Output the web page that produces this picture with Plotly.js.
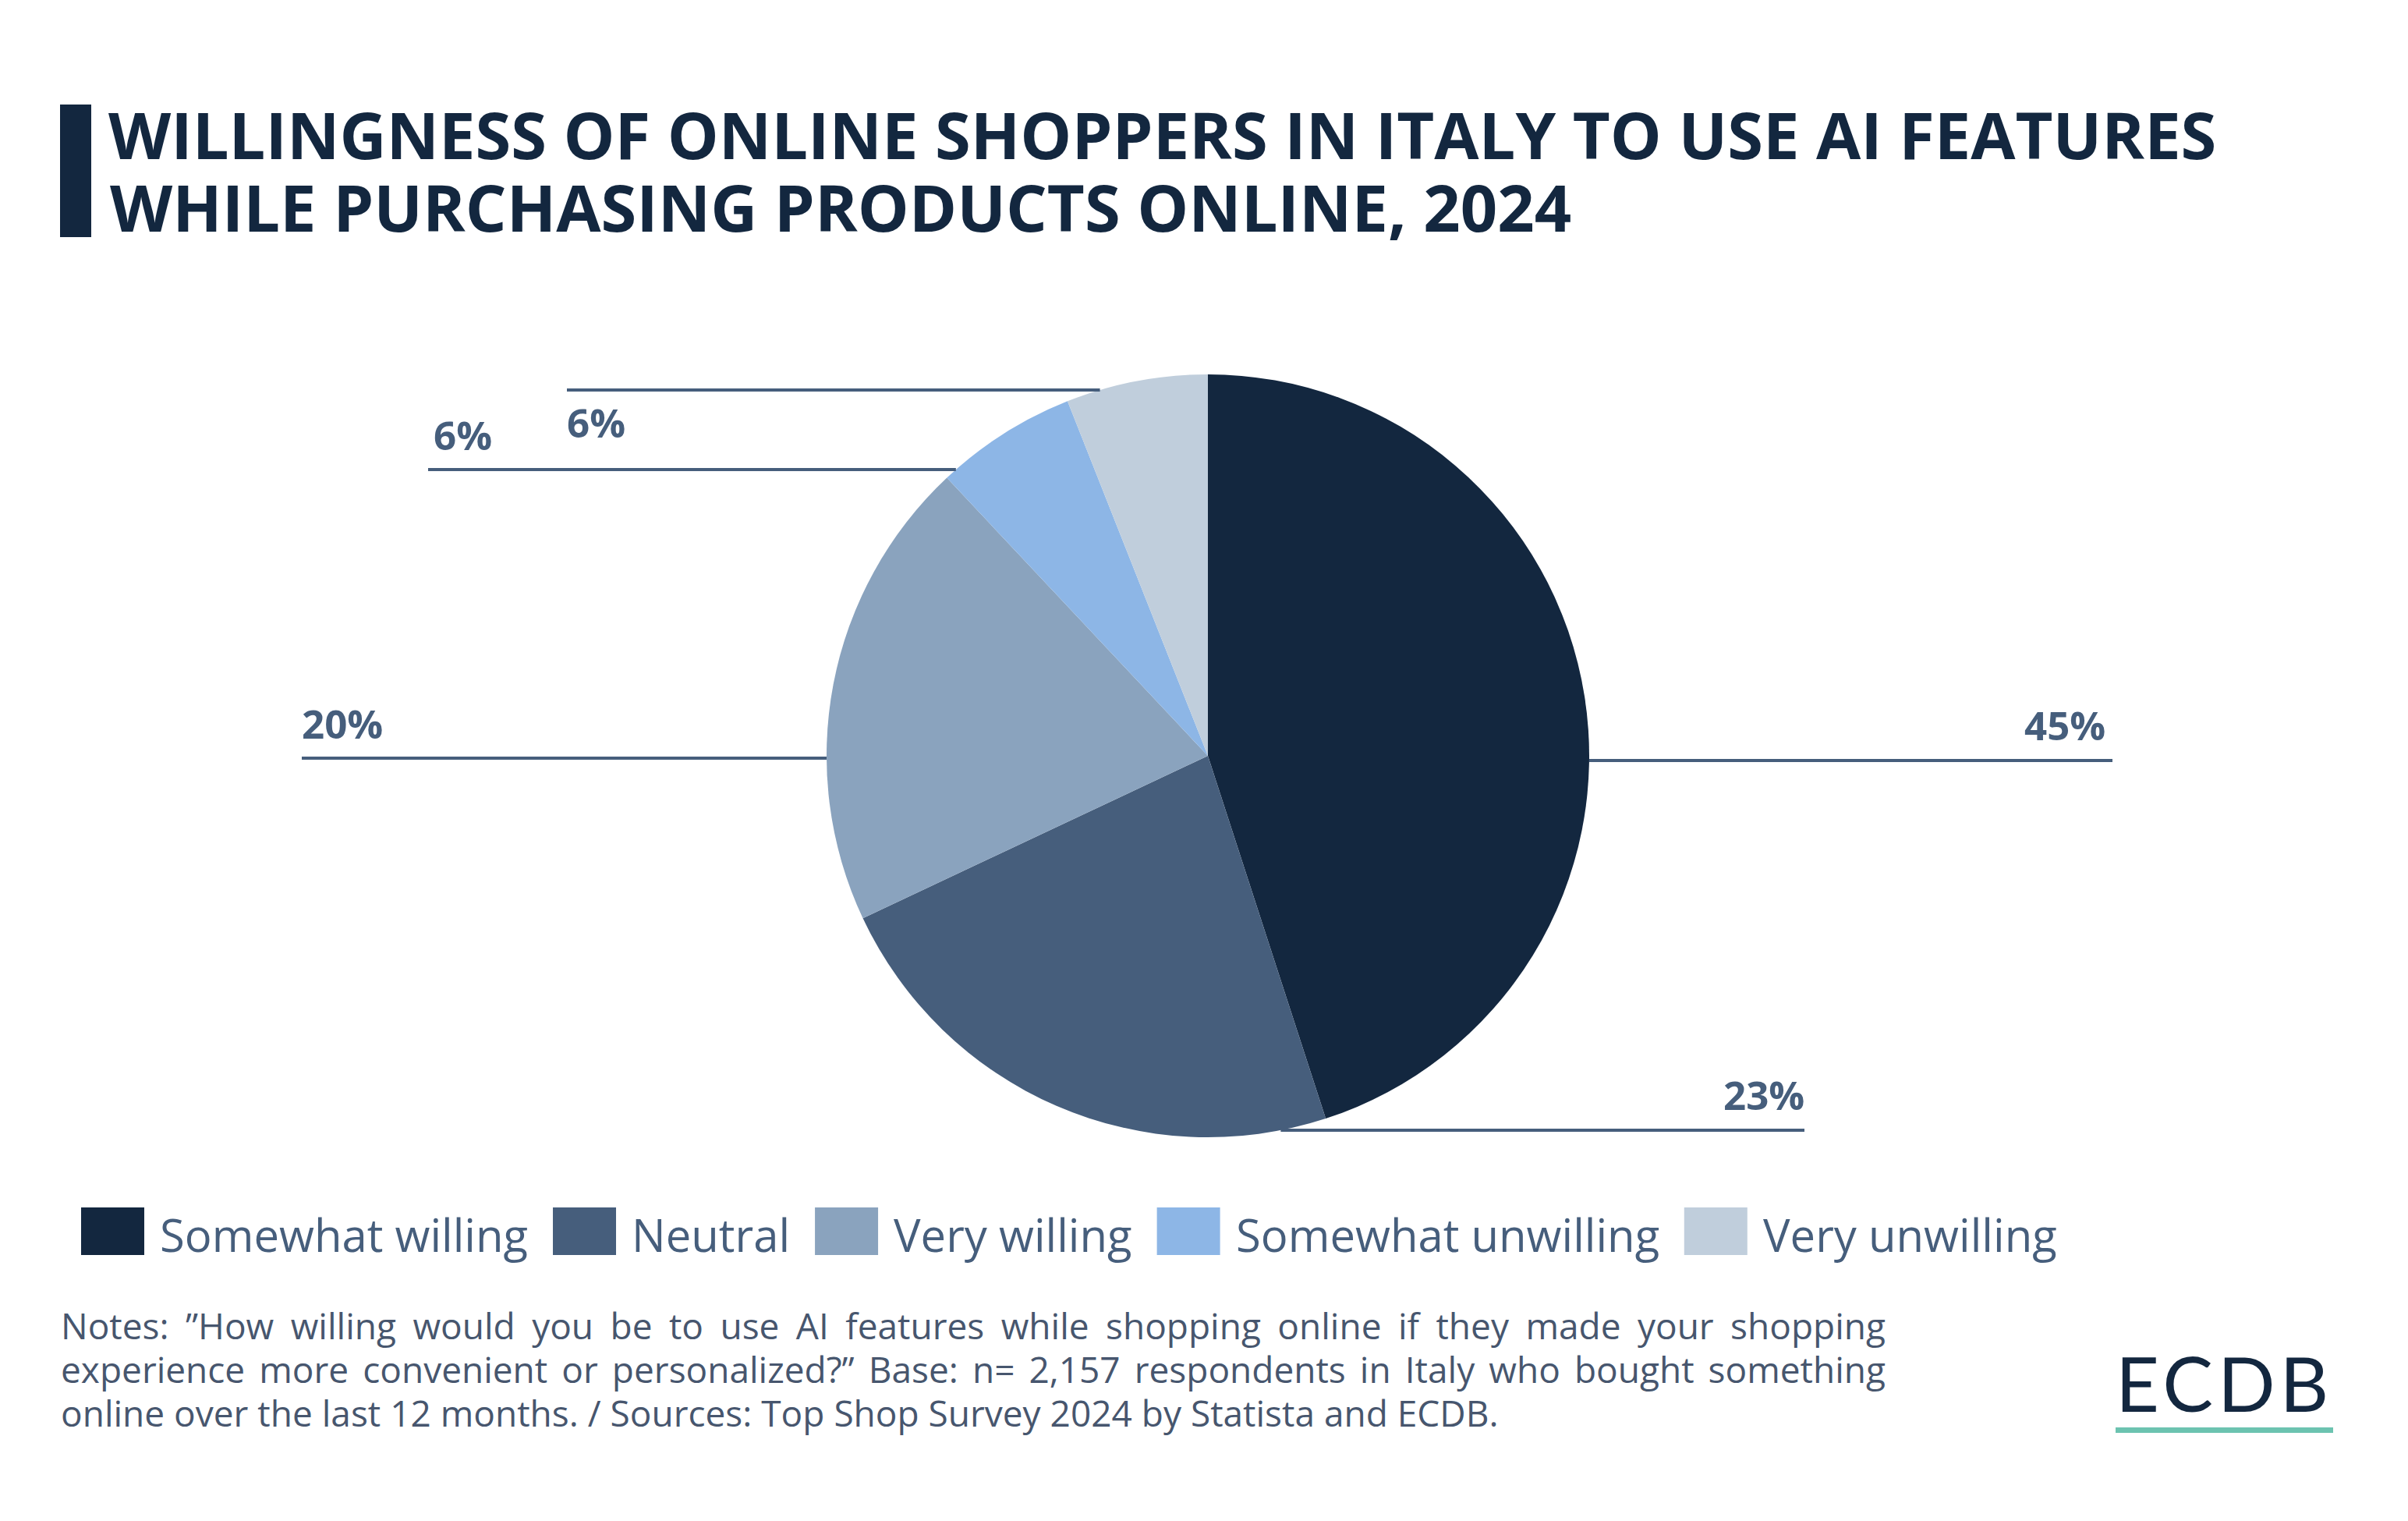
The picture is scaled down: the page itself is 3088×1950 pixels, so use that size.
<!DOCTYPE html>
<html>
<head>
<meta charset="utf-8">
<script src="https://cdn.plot.ly/plotly-3.0.1.min.js"></script>
<style>
  html, body { margin: 0; padding: 0; background: #ffffff; }
  #chart { width: 3088px; height: 1950px; }
</style>
</head>
<body>
<div id="chart"></div>
<script>
// ---------------- DATA ----------------
const categories = ["Somewhat willing", "Neutral", "Very willing", "Somewhat unwilling", "Very unwilling"];
const shares = [45, 23, 20, 6, 6];
const titleLines = [
  "WILLINGNESS OF ONLINE SHOPPERS IN ITALY TO USE AI FEATURES",
  "WHILE PURCHASING PRODUCTS ONLINE, 2024"
];
const noteLines = [
  "Notes: \u201DHow willing would you be to use AI features while shopping online if they made your shopping",
  "experience more convenient or personalized?\u201D Base: n= 2,157 respondents in Italy who bought something",
  "online over the last 12 months. / Sources: Top Shop Survey 2024 by Statista and ECDB."
];
const brand = "ECDB";

// ---------------- STYLE / LAYOUT ----------------
const sliceColors = ["#13273f", "#465e7c", "#8aa3be", "#8db6e6", "#c0cedc"];
const W = 3088, H = 1950;
const CX = 1549, CY = 969, R = 489;
const labelColor = "#465e7c";
const navy = "#13273f";
// leader-line layout per slice: y of line, outer end x, side of pie, text anchor point
const leaderLayout = [
  {lineY: 975,  outerX: 2709, side: "right", textX: 2702, textY: 929, anchor: "right"},
  {lineY: 1449, outerX: 2314, side: "right", textX: 2316, textY: 1403, anchor: "right"},
  {lineY: 972,  outerX: 387,  side: "left",  textX: 385,  textY: 927, anchor: "left"},
  {lineY: 602,  outerX: 549,  side: "left",  textX: 554,  textY: 557, anchor: "left"},
  {lineY: 500,  outerX: 727,  side: "left",  textX: 725,  textY: 541, anchor: "left"}
];

const px = x => x / W;
const py = y => 1 - y / H;

const cnv = document.createElement("canvas");
const ctx = cnv.getContext("2d");
function tw(str, font) { ctx.font = font; return ctx.measureText(str).width; }

function build() {
  const shapes = [];
  const annotations = [];

  // title accent bar
  shapes.push({type: "rect", xref: "paper", yref: "paper", x0: px(77), x1: px(117), y0: py(304), y1: py(134),
               fillcolor: navy, line: {width: 0}, layer: "above"});

  // second title line
  annotations.push({text: titleLines[1], xref: "paper", yref: "paper", x: px(139), y: py(265),
                    xanchor: "left", yanchor: "middle", showarrow: false,
                    font: {family: "Open Sans", size: 83, color: navy, weight: 700}});

  // leader lines and value labels
  shares.forEach((v, i) => {
    const L = leaderLayout[i];
    const dy = L.lineY - CY;
    const dx = Math.sqrt(Math.max(R * R - dy * dy, 0));
    const innerX = L.side === "right" ? CX + dx : CX - dx;
    shapes.push({type: "line", xref: "paper", yref: "paper",
                 x0: px(innerX), x1: px(L.outerX), y0: py(L.lineY), y1: py(L.lineY),
                 line: {color: labelColor, width: 4}});
    annotations.push({text: v + "%", xref: "paper", yref: "paper", x: px(L.textX), y: py(L.textY),
                      xanchor: L.anchor, yanchor: "middle", showarrow: false,
                      font: {family: "Open Sans", size: 51, color: labelColor, weight: 700}});
  });

  // custom legend
  const legFont = 58;
  let lx = 104;
  categories.forEach((c, i) => {
    shapes.push({type: "rect", xref: "paper", yref: "paper", x0: px(lx), x1: px(lx + 81),
                 y0: py(1609), y1: py(1548), fillcolor: sliceColors[i], line: {width: 0}});
    const tx = lx + 81 + 18;
    annotations.push({text: c, xref: "paper", yref: "paper", x: px(tx), y: py(1582),
                      xanchor: "left", yanchor: "middle", showarrow: false,
                      font: {family: "Open Sans", size: legFont, color: labelColor}});
    lx = tx + tw(c, legFont + 'px "Open Sans"') + 34;
  });

  // notes (first two lines justified)
  const noteFont = 46;
  const noteLeft = 78, noteRight = 2418;
  const noteY = [1699, 1755, 1811];
  noteLines.forEach((line, i) => {
    let txt = line;
    if (i < noteLines.length - 1) {
      const w = tw(line, noteFont + 'px "Open Sans"');
      const spaces = (line.match(/ /g) || []).length;
      const ws = (noteRight - noteLeft - w) / spaces;
      txt = '<span style="word-spacing:' + ws.toFixed(2) + 'px">' + line + '</span>';
    }
    annotations.push({text: txt, xref: "paper", yref: "paper", x: px(noteLeft - 2), y: py(noteY[i]),
                      xanchor: "left", yanchor: "middle", showarrow: false,
                      font: {family: "Open Sans", size: noteFont, color: "#47566e"}});
  });

  // brand logo
  const brandFont = 97;
  const bw = tw(brand, brandFont + 'px Lato');
  const ls = (279 - bw) / brand.length;
  annotations.push({text: '<span style="letter-spacing:' + ls.toFixed(2) + 'px">' + brand + '</span>',
                    xref: "paper", yref: "paper", x: px(2711), y: py(1772),
                    xanchor: "left", yanchor: "middle", showarrow: false,
                    font: {family: "Lato", size: brandFont, color: navy}});
  shapes.push({type: "rect", xref: "paper", yref: "paper", x0: px(2713), x1: px(2992),
               y0: py(1837), y1: py(1830), fillcolor: "#6cc3b0", line: {width: 0}});

  const trace = {
    type: "pie",
    labels: categories,
    values: shares,
    sort: false,
    direction: "clockwise",
    rotation: 0,
    textinfo: "none",
    hoverinfo: "label+percent",
    showlegend: false,
    marker: {colors: sliceColors, line: {width: 0}},
    domain: {x: [px(CX - R), px(CX + R)], y: [py(CY + R), py(CY - R)]}
  };

  const layout = {
    width: W, height: H,
    margin: {l: 0, r: 0, t: 0, b: 0},
    paper_bgcolor: "#ffffff",
    plot_bgcolor: "#ffffff",
    showlegend: false,
    title: {text: titleLines[0], xref: "paper", yref: "paper", x: px(139), xanchor: "left",
            y: py(175), yanchor: "middle",
            font: {family: "Open Sans", size: 83, color: navy, weight: 700}},
    shapes: shapes,
    annotations: annotations
  };

  Plotly.newPlot("chart", [trace], layout, {displayModeBar: false, staticPlot: true});
}

Promise.all([
  document.fonts.load('58px "Open Sans"'),
  document.fonts.load('bold 83px "Open Sans"'),
  document.fonts.load('97px Lato')
]).then(build, build);
</script>
</body>
</html>
